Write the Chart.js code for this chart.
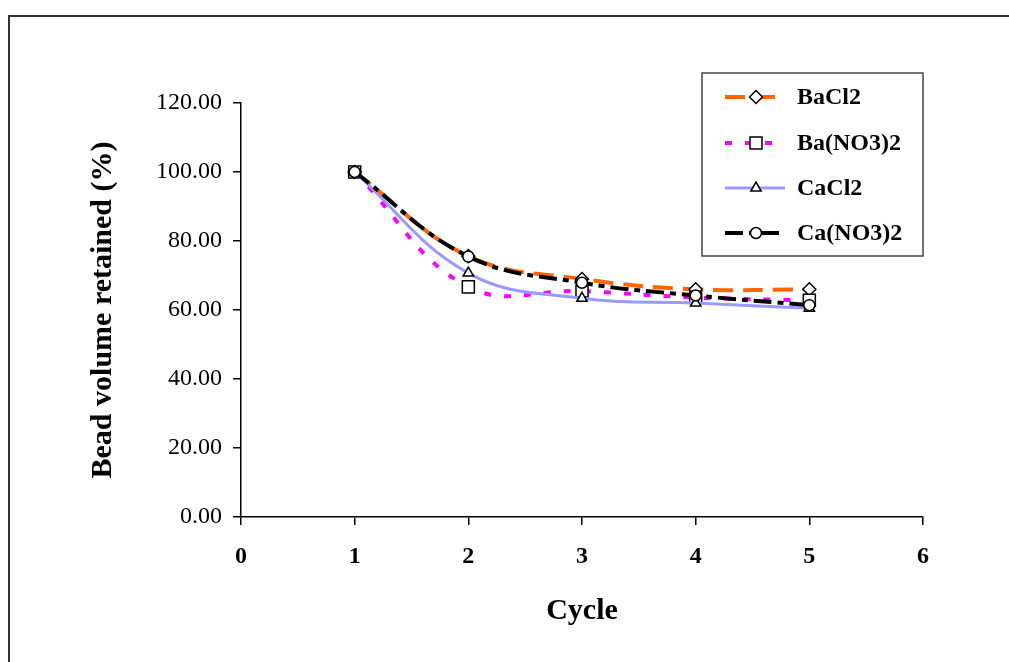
<!DOCTYPE html>
<html>
<head>
<meta charset="utf-8">
<script src="https://cdn.jsdelivr.net/npm/chart.js@4"></script>
<style>
  html, body { margin: 0; padding: 0; background: #fff; }
  #wrap { width: 1009px; height: 662px; position: relative; }
</style>
</head>
<body>
<div id="wrap"><canvas id="bead_chart" width="1009" height="662"></canvas></div>
<script>
var cycles    = [1, 2, 3, 4, 5];
var baCl2     = [100.0, 75.6, 69.0, 66.0, 66.0];
var baNO3     = [100.0, 66.7, 65.5, 63.6, 62.8];
var caCl2     = [100.0, 70.7, 63.4, 62.0, 60.5];
var caNO3     = [100.0, 75.5, 67.9, 64.2, 61.4];
var seriesNames = ['BaCl2', 'Ba(NO3)2', 'CaCl2', 'Ca(NO3)2'];

function pts(vals) {
    return cycles.map(function (c, i) { return { x: c, y: vals[i] }; });
}

var FONT = "'Liberation Serif', 'Times New Roman', serif";

var marker = {
    pointBackgroundColor: '#fff',
    pointBorderColor: '#000',
    pointBorderWidth: 1.5,
    pointHoverRadius: 6,
    fill: false,
    tension: 0.4
};

const data = {
    datasets: [
        Object.assign({}, marker, {
            label: seriesNames[0], data: pts(baCl2),
            borderColor: '#FF6600', borderWidth: 4, borderDash: [20, 10],
            pointStyle: 'rectRot', pointRadius: 6.5, order: 4
        }),
        Object.assign({}, marker, {
            label: seriesNames[1], data: pts(baNO3),
            borderColor: '#FF00FF', borderWidth: 4, borderDash: [7, 13],
            pointStyle: 'rect', pointRadius: 8.5, order: 3
        }),
        Object.assign({}, marker, {
            label: seriesNames[2], data: pts(caCl2),
            borderColor: '#9999FF', borderWidth: 3, borderDash: [],
            pointStyle: 'triangle', pointRadius: 6, order: 2
        }),
        Object.assign({}, marker, {
            label: seriesNames[3], data: pts(caNO3),
            borderColor: '#000000', borderWidth: 4, borderDash: [18, 6, 6, 6],
            pointStyle: 'circle', pointRadius: 5.5, order: 1
        })
    ]
};

// outer frame (left + top only, the rest runs off the page)
const framePlugin = {
    id: 'frame',
    beforeDraw(chart) {
        const ctx = chart.ctx;
        ctx.save();
        ctx.fillStyle = '#fff';
        ctx.fillRect(0, 0, chart.width, chart.height);
        ctx.strokeStyle = '#333';
        ctx.lineWidth = 2;
        ctx.beginPath();
        ctx.moveTo(9, chart.height + 2);
        ctx.lineTo(9, 16);
        ctx.lineTo(chart.width + 2, 16);
        ctx.stroke();
        ctx.restore();
    }
};

// boxed legend with line samples
const legendBox = {
    id: 'legendBox',
    afterDraw(chart) {
        const ctx = chart.ctx;
        ctx.save();
        ctx.fillStyle = '#fff';
        ctx.fillRect(702, 73, 221, 183);
        ctx.strokeStyle = '#444';
        ctx.lineWidth = 1.5;
        ctx.strokeRect(702, 73, 221, 183);
        var rows = [97, 143, 188, 233];
        chart.data.datasets.forEach(function (ds, i) {
            var y = rows[i];
            ctx.strokeStyle = ds.borderColor;
            ctx.lineWidth = ds.borderWidth;
            ctx.setLineDash(ds.borderDash);
            ctx.beginPath();
            ctx.moveTo(725, y);
            ctx.lineTo(785, y);
            ctx.stroke();
            ctx.setLineDash([]);
            ctx.fillStyle = '#fff';
            ctx.strokeStyle = '#000';
            ctx.lineWidth = 1.5;
            Chart.helpers.drawPoint(ctx, {
                pointStyle: ds.pointStyle, radius: ds.pointRadius, borderWidth: 1.5, rotation: 0
            }, 756, y);
            ctx.fillStyle = '#000';
            ctx.font = 'bold 24px ' + FONT;
            ctx.textBaseline = 'middle';
            ctx.textAlign = 'left';
            ctx.fillText(ds.label, 797, y + 1);
        });
        ctx.restore();
    }
};

const config = {
    type: 'line',
    data: data,
    options: {
        responsive: false,
        animation: false,
        layout: { padding: { left: 0, right: 86, top: 103, bottom: 0 } },
        plugins: {
            legend: { display: false },
            tooltip: { enabled: false }
        },
        scales: {
            x: {
                type: 'linear',
                min: 0, max: 6,
                afterFit: function (s) { s.height = 145; },
                ticks: {
                    stepSize: 1, color: '#000', padding: 17,
                    font: { family: FONT, size: 24, weight: 'bold' }
                },
                grid: { drawOnChartArea: false, drawTicks: true, tickLength: 8, color: '#000', lineWidth: 1.5 },
                border: { color: '#000', width: 1.5 },
                title: {
                    display: true, text: 'Cycle', color: '#000',
                    font: { family: FONT, size: 30, weight: 'bold' },
                    padding: { top: 0, bottom: 33 }
                }
            },
            y: {
                min: 0, max: 120,
                afterFit: function (s) { s.width = 241; },
                ticks: {
                    stepSize: 20, color: '#000', padding: 11,
                    font: { family: FONT, size: 24 },
                    callback: function (v) { return v.toFixed(2); }
                },
                grid: { drawOnChartArea: false, drawTicks: true, tickLength: 8, color: '#000', lineWidth: 1.5 },
                border: { color: '#000', width: 1.5 },
                title: {
                    display: true, text: 'Bead volume retained (%)', color: '#000',
                    font: { family: FONT, size: 30, weight: 'bold' },
                    padding: { top: 85, bottom: 0 }
                }
            }
        }
    },
    plugins: [framePlugin, legendBox]
};

var myChart = new Chart(document.getElementById('bead_chart'), config);
</script>
</body>
</html>
